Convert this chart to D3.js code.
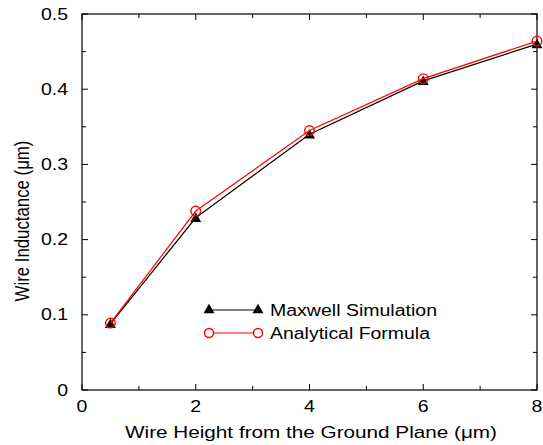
<!DOCTYPE html>
<html><head><meta charset="utf-8">
<script src="https://cdn.jsdelivr.net/npm/d3@7"></script>
<style>
body{margin:0;background:#fff;}
text{font-family:"Liberation Sans",Arial,sans-serif;}
</style></head>
<body><svg id="c" width="543" height="445"></svg>
<script>
const heights = [0.5, 2, 4, 6, 8];
const maxwell = [0.088, 0.229, 0.340, 0.411, 0.460];
const analytical = [0.089, 0.238, 0.345, 0.414, 0.464];
const seriesNames = ["Maxwell Simulation", "Analytical Formula"];
const xTicks = [0, 2, 4, 6, 8];
const yTicks = [0, 0.1, 0.2, 0.3, 0.4, 0.5];
const xMinor = [1, 3, 5, 7];
const yMinor = [0.05, 0.15, 0.25, 0.35, 0.45];

const svg = d3.select("#c");
const L = 82, R = 537, T = 14, B = 390;
const x = d3.scaleLinear().domain([0, 8]).range([L, R]);
const y = d3.scaleLinear().domain([0, 0.5]).range([B, T]);
const fs = 16;
const sx = 1.22; // horizontal stretch of the text

svg.append("rect").attr("x", L).attr("y", T).attr("width", R - L).attr("height", B - T)
  .attr("fill", "none").attr("stroke", "#000").attr("stroke-width", 1.2);

const tk = svg.append("g").attr("stroke", "#000").attr("stroke-width", 1);
xTicks.forEach(v => {
  tk.append("line").attr("x1", x(v)).attr("x2", x(v)).attr("y1", B).attr("y2", B - 6);
  tk.append("line").attr("x1", x(v)).attr("x2", x(v)).attr("y1", T).attr("y2", T + 6);
});
xMinor.forEach(v => {
  tk.append("line").attr("x1", x(v)).attr("x2", x(v)).attr("y1", B).attr("y2", B - 4);
  tk.append("line").attr("x1", x(v)).attr("x2", x(v)).attr("y1", T).attr("y2", T + 4);
});
yTicks.forEach(v => {
  tk.append("line").attr("x1", L).attr("x2", L + 6).attr("y1", y(v)).attr("y2", y(v));
  tk.append("line").attr("x1", R).attr("x2", R - 6).attr("y1", y(v)).attr("y2", y(v));
});
yMinor.forEach(v => {
  tk.append("line").attr("x1", L).attr("x2", L + 4).attr("y1", y(v)).attr("y2", y(v));
  tk.append("line").attr("x1", R).attr("x2", R - 4).attr("y1", y(v)).attr("y2", y(v));
});

svg.append("g").selectAll("text").data(xTicks).join("text")
  .attr("transform", d => `translate(${x(d)},412) scale(${sx},1)`).attr("text-anchor", "middle")
  .attr("font-size", fs).text(d => d3.format("d")(d));
svg.append("g").selectAll("text").data(yTicks).join("text")
  .attr("transform", d => `translate(68,${y(d) + 5.5}) scale(${sx},1)`).attr("text-anchor", "end")
  .attr("font-size", fs).text(d => d === 0 ? "0" : d3.format(".1f")(d));

svg.append("text").attr("x", 311).attr("y", 438).attr("text-anchor", "middle")
  .attr("font-size", fs).attr("textLength", 372).attr("lengthAdjust", "spacingAndGlyphs")
  .text("Wire Height from the Ground Plane (\u03bcm)");
svg.append("text").attr("transform", `translate(29,221) scale(1.25,1) rotate(-90)`)
  .attr("text-anchor", "middle").attr("font-size", 16.8).text("Wire Inductance (\u03bcm)");

const line = d3.line().x(d => x(d[0])).y(d => y(d[1]));
const mData = heights.map((h, i) => [h, maxwell[i]]);
const aData = heights.map((h, i) => [h, analytical[i]]);
const tri = d3.symbol().type(d3.symbolTriangle).size(52);

svg.append("path").datum(mData).attr("d", line).attr("fill", "none").attr("stroke", "#000").attr("stroke-width", 1.2);
svg.append("g").selectAll("path").data(mData).join("path")
  .attr("transform", d => `translate(${x(d[0])},${y(d[1]) + 1})`).attr("d", tri).attr("fill", "#000");

svg.append("path").datum(aData).attr("d", line).attr("fill", "none").attr("stroke", "#ff0000").attr("stroke-width", 1.2);
svg.append("g").selectAll("circle").data(aData).join("circle")
  .attr("cx", d => x(d[0])).attr("cy", d => y(d[1])).attr("r", 4.8)
  .attr("fill", "none").attr("stroke", "#ff0000").attr("stroke-width", 1.4);

const lg = svg.append("g");
const lx1 = 209, lx2 = 258, ly1 = 310, ly2 = 333;
lg.append("line").attr("x1", lx1).attr("x2", lx2).attr("y1", ly1).attr("y2", ly1).attr("stroke", "#000").attr("stroke-width", 1.2);
[lx1, lx2].forEach(px => lg.append("path").attr("transform", `translate(${px},${ly1})`).attr("d", tri).attr("fill", "#000"));
lg.append("text").attr("x", 270).attr("y", ly1 + 5.5).attr("font-size", fs)
  .attr("textLength", 167).attr("lengthAdjust", "spacingAndGlyphs").text(seriesNames[0]);
lg.append("line").attr("x1", lx1).attr("x2", lx2).attr("y1", ly2).attr("y2", ly2).attr("stroke", "#ff0000").attr("stroke-width", 1.2);
[lx1, lx2].forEach(px => lg.append("circle").attr("cx", px).attr("cy", ly2).attr("r", 4.5)
  .attr("fill", "#fff").attr("stroke", "#ff0000").attr("stroke-width", 1.4));
lg.append("text").attr("x", 270).attr("y", ly2 + 5.5).attr("font-size", fs)
  .attr("textLength", 160).attr("lengthAdjust", "spacingAndGlyphs").text(seriesNames[1]);
</script></body></html>
